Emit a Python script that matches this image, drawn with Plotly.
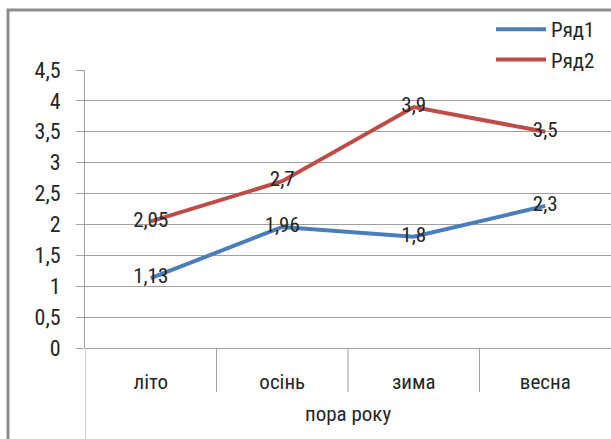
import plotly.graph_objects as go

categories = ["літо", "осінь", "зима", "весна"]
group_label = "пора року"
series1_name = "Ряд1"
series1 = [1.13, 1.96, 1.8, 2.3]
series2_name = "Ряд2"
series2 = [2.05, 2.7, 3.9, 3.5]
y_ticks = [0, 0.5, 1, 1.5, 2, 2.5, 3, 3.5, 4, 4.5]

FONT = "Roboto Condensed, Liberation Sans Narrow, sans-serif"
FS = 21
TXT = "#262626"
W, H = 611, 439
L, R, T, B = 85, 0, 70, 91
PH = H - T - B
PW = W - L - R


def fmt(v):
    return ("%g" % v).replace(".", ",")


def px_x(p):
    return (p - L) / PW


def px_y(p):
    return (H - B - p) / PH


fig = go.Figure()
fig.add_trace(go.Scatter(
    x=categories, y=series1, name=series1_name, mode="lines+text",
    line=dict(color="#4a7ebb", width=4),
    text=[fmt(v) for v in series1], textposition="middle center",
    textfont=dict(family=FONT, size=FS, color=TXT),
))
fig.add_trace(go.Scatter(
    x=categories, y=series2, name=series2_name, mode="lines+text",
    line=dict(color="#be4b48", width=4),
    text=[fmt(v) for v in series2], textposition="middle center",
    textfont=dict(family=FONT, size=FS, color=TXT),
))

shapes = []
for i in range(len(categories) - 1):
    shapes.append(dict(type="line", xref="x", yref="paper", x0=i + 0.5, x1=i + 0.5,
                       y0=0, y1=px_y(392), line=dict(color="#a0a0a0", width=1)))
shapes.append(dict(type="line", xref="x", yref="paper", x0=-0.5, x1=-0.5,
                   y0=0, y1=px_y(H + 5), line=dict(color="#a0a0a0", width=1)))
shapes.append(dict(type="rect", xref="paper", yref="paper",
                   x0=px_x(8), x1=px_x(W + 20), y0=px_y(H + 20), y1=px_y(10),
                   line=dict(color="#8c8c8c", width=3), fillcolor="rgba(0,0,0,0)", layer="below"))

fig.update_layout(
    width=W, height=H,
    margin=dict(l=L, r=R, t=T, b=B),
    paper_bgcolor="white", plot_bgcolor="white",
    separators=", ",
    font=dict(family=FONT, size=FS, color=TXT),
    showlegend=True,
    legend=dict(x=px_x(491), y=px_y(9), xanchor="left", yanchor="top",
                bgcolor="rgba(0,0,0,0)", font=dict(family=FONT, size=FS, color=TXT),
                itemwidth=50, tracegroupgap=0),
    shapes=shapes,
    annotations=[dict(text=group_label, xref="paper", yref="paper", x=0.5, y=px_y(414),
                      showarrow=False, yanchor="middle",
                      font=dict(family=FONT, size=FS, color=TXT))],
)
fig.update_xaxes(
    type="category", range=[-0.5, 3.5], showgrid=False, zeroline=False,
    showline=False, ticks="", tickfont=dict(family=FONT, size=FS, color=TXT),
    ticklabelstandoff=19, automargin=False,
)
fig.update_yaxes(
    range=[0, 4.5], tickvals=y_ticks, ticktext=[fmt(v) for v in y_ticks],
    showgrid=True, gridcolor="#a0a0a0", gridwidth=1,
    showline=True, linecolor="#a0a0a0", linewidth=1,
    zeroline=True, zerolinecolor="#a0a0a0", zerolinewidth=1,
    ticks="outside", ticklen=8, tickcolor="#a0a0a0",
    tickfont=dict(family=FONT, size=FS + 1, color=TXT),
    ticklabelstandoff=11, automargin=False,
)

fig.write_html(
    "out.html",
    config={"displayModeBar": False},
    post_script="document.body.style.margin='0';document.body.style.overflow='hidden';",
)
